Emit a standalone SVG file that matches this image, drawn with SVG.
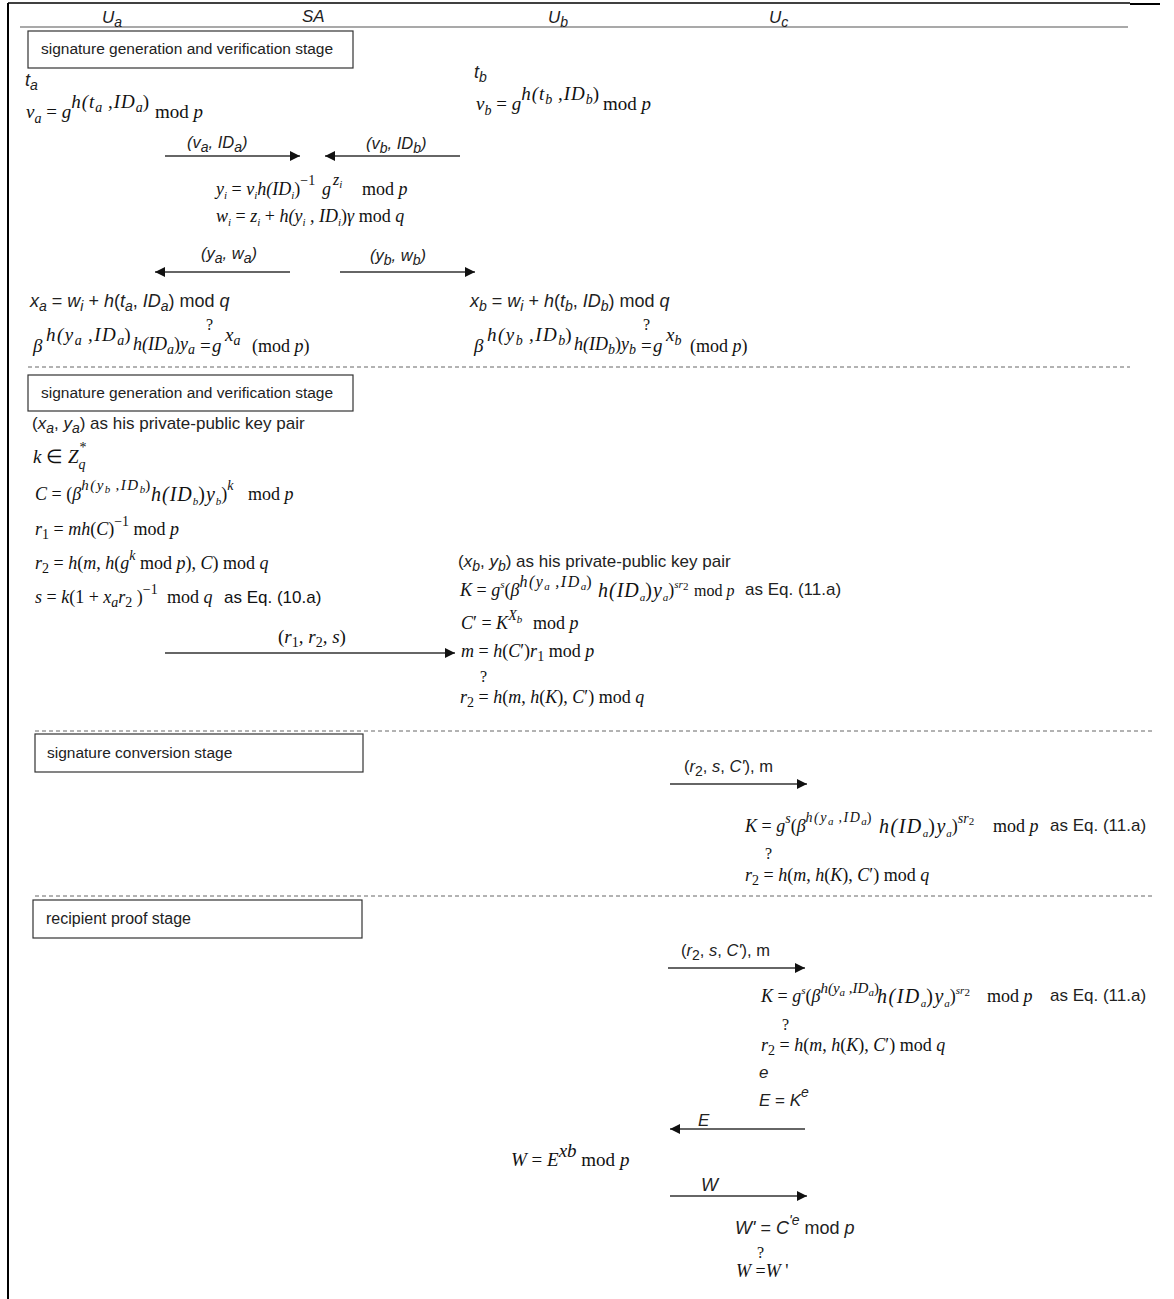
<svg xmlns="http://www.w3.org/2000/svg" width="1174" height="1299" viewBox="0 0 1174 1299">
<style>
.m{font-family:"Liberation Serif",serif;font-size:19px;font-style:italic;fill:#111}
.k{font-family:"Liberation Serif",serif;font-size:18px;font-style:italic;fill:#111}
.n{font-style:normal}
.e{font-size:19px}
.w{font-size:20px;letter-spacing:1px}
.ls{letter-spacing:1.5px}
.ls1{letter-spacing:1px}
.sp{font-size:15px}
.sp16{font-size:16px}
.ss{font-size:11px}
.sb{font-size:14px}
.s{font-family:"Liberation Sans",sans-serif;font-size:17px;fill:#222}
.i{font-style:italic}
.lbl{font-family:"Liberation Sans",sans-serif;font-size:15.5px;fill:#222}
.q{font-family:"Liberation Serif",serif;font-size:16px;fill:#111}
.box{fill:#fff;stroke:#333;stroke-width:1.2}
.arr{stroke:#333;stroke-width:1.3;fill:none}
.dash{stroke:#666;stroke-width:1;stroke-dasharray:4 3}
</style>
<defs>
<marker id="ah" viewBox="0 0 10 10" refX="10" refY="5" markerWidth="11" markerHeight="10" markerUnits="userSpaceOnUse" orient="auto">
<path d="M0,0 L10,5 L0,10 z" fill="#111"/>
</marker>
</defs>
<rect width="1174" height="1299" fill="#fff"/>
<g id="frame">
<line x1="8" y1="3" x2="8" y2="1299" stroke="#000" stroke-width="2"/>
<line x1="8" y1="3" x2="1130" y2="3" stroke="#000" stroke-width="1.5"/>
<line x1="1130" y1="4" x2="1160" y2="4" stroke="#000" stroke-width="2"/>
<line x1="20" y1="27" x2="1128" y2="27" stroke="#555" stroke-width="1.2"/>
<line class="dash" x1="28" y1="367" x2="1130" y2="367"/>
<line class="dash" x1="35" y1="731" x2="1152" y2="731"/>
<line class="dash" x1="35" y1="896" x2="1152" y2="896"/>
</g>
<g id="header">
<text class="s i" x="102" y="23">U<tspan class="sb" y="27">a</tspan></text>
<text class="s i" x="302" y="22">SA</text>
<text class="s i" x="548" y="23">U<tspan class="sb" y="27">b</tspan></text>
<text class="s i" x="769" y="23">U<tspan class="sb" y="27">c</tspan></text>
</g>
<g id="stage1">
<rect class="box" x="28" y="31" width="325" height="37"/>
<text class="lbl" x="41" y="54">signature generation and verification stage</text>
</g>
<g id="stage2">
<rect class="box" x="28" y="375" width="325" height="36"/>
<text class="lbl" x="41" y="398">signature generation and verification stage</text>
</g>
<g id="stage3">
<rect class="box" x="35" y="734" width="328" height="38"/>
<text class="lbl" x="47" y="758">signature conversion stage</text>
</g>
<g id="stage4">
<rect class="box" x="33" y="900" width="329" height="38"/>
<text class="lbl" x="46" y="924" style="font-size:16px">recipient proof stage</text>
</g>
<g id="ua-init">
<text class="s i" x="25" y="86" style="font-size:18px">t<tspan class="sb" y="90">a</tspan></text>
<text class="m" x="26" y="118"><tspan>v</tspan><tspan class="sb" y="123">a</tspan><tspan class="n" y="118"> = </tspan><tspan y="118">g</tspan><tspan class="e ls1" y="108">h(t</tspan><tspan class="sb" y="112">a</tspan><tspan class="e ls1" y="108"> ,ID</tspan><tspan class="sb" y="112">a</tspan><tspan class="e n" y="108">)</tspan><tspan class="n" x="155" y="118">mod </tspan><tspan y="118">p</tspan></text>
</g>
<g id="ub-init">
<text class="s i" x="474" y="78" style="font-size:18px">t<tspan class="sb" y="82">b</tspan></text>
<text class="m" x="476" y="110"><tspan>v</tspan><tspan class="sb" y="115">b</tspan><tspan class="n" y="110"> = </tspan><tspan y="110">g</tspan><tspan class="e ls1" y="100">h(t</tspan><tspan class="sb" y="104">b</tspan><tspan class="e ls1" y="100"> ,ID</tspan><tspan class="sb" y="104">b</tspan><tspan class="e n" y="100">)</tspan><tspan class="n" x="603" y="110">mod </tspan><tspan y="110">p</tspan></text>
</g>
<g id="sa-compute">
<text class="k" x="216" y="195"><tspan>y</tspan><tspan class="ss" y="199">i</tspan><tspan class="n" y="195"> = </tspan><tspan y="195">v</tspan><tspan class="ss" y="199">i</tspan><tspan y="195">h(ID</tspan><tspan class="ss" y="199">i</tspan><tspan class="n" y="195">)</tspan><tspan class="sb n" y="185">−1</tspan><tspan x="322" y="195">g</tspan><tspan class="sp16" x="333" y="185">z</tspan><tspan class="ss" y="188">i</tspan><tspan class="n" x="362" y="195">mod </tspan><tspan y="195">p</tspan></text>
<text class="k" x="216" y="222"><tspan>w</tspan><tspan class="ss" y="226">i</tspan><tspan class="n" y="222"> = </tspan><tspan y="222">z</tspan><tspan class="ss" y="226">i</tspan><tspan class="n" y="222"> + </tspan><tspan y="222">h(y</tspan><tspan class="ss" y="226">i</tspan><tspan y="222"> , ID</tspan><tspan class="ss" y="226">i</tspan><tspan class="n" y="222">)</tspan><tspan y="222">γ</tspan><tspan class="n" y="222"> mod </tspan><tspan y="222">q</tspan></text>
</g>
<g id="ua-verify">
<text class="s" x="30" y="307" style="font-size:18px"><tspan class="i">x</tspan><tspan class="i sb" y="311">a</tspan><tspan y="307"> = </tspan><tspan class="i">w</tspan><tspan class="i sb" y="311">i</tspan><tspan y="307"> + </tspan><tspan class="i">h</tspan><tspan>(</tspan><tspan class="i">t</tspan><tspan class="i sb" y="311">a</tspan><tspan y="307">, </tspan><tspan class="i">ID</tspan><tspan class="i sb" y="311">a</tspan><tspan y="307">) mod </tspan><tspan class="i">q</tspan></text>
<text class="q" x="206" y="330">?</text>
<text class="m" x="33" y="352"><tspan>β</tspan><tspan class="e ls" x="46" y="341">h(y</tspan><tspan class="sb" y="345">a</tspan><tspan class="e ls" y="341"> ,ID</tspan><tspan class="sb" y="345">a</tspan><tspan class="e n" y="341">)</tspan><tspan class="k" x="133" y="350">h(ID</tspan><tspan class="sb" y="354">a</tspan><tspan class="k n" y="350">)</tspan><tspan class="k" y="350">y</tspan><tspan class="sb" y="354">a</tspan><tspan class="n" x="200" y="352">=</tspan><tspan x="212" y="352">g</tspan><tspan class="e" x="225" y="341">x</tspan><tspan class="sb" y="345">a</tspan><tspan class="n k" x="252" y="352">(mod </tspan><tspan class="k" y="352">p</tspan><tspan class="n k" y="352">)</tspan></text>
</g>
<g id="ub-verify">
<text class="s" x="470" y="307" style="font-size:18px"><tspan class="i">x</tspan><tspan class="i sb" y="311">b</tspan><tspan y="307"> = </tspan><tspan class="i">w</tspan><tspan class="i sb" y="311">i</tspan><tspan y="307"> + </tspan><tspan class="i">h</tspan><tspan>(</tspan><tspan class="i">t</tspan><tspan class="i sb" y="311">b</tspan><tspan y="307">, </tspan><tspan class="i">ID</tspan><tspan class="i sb" y="311">b</tspan><tspan y="307">) mod </tspan><tspan class="i">q</tspan></text>
<text class="q" x="643" y="330">?</text>
<text class="m" x="474" y="352"><tspan>β</tspan><tspan class="e ls" x="487" y="341">h(y</tspan><tspan class="sb" y="345">b</tspan><tspan class="e ls" y="341"> ,ID</tspan><tspan class="sb" y="345">b</tspan><tspan class="e n" y="341">)</tspan><tspan class="k" x="574" y="350">h(ID</tspan><tspan class="sb" y="354">b</tspan><tspan class="k n" y="350">)</tspan><tspan class="k" y="350">y</tspan><tspan class="sb" y="354">b</tspan><tspan class="n" x="641" y="352">=</tspan><tspan x="653" y="352">g</tspan><tspan class="e" x="666" y="341">x</tspan><tspan class="sb" y="345">b</tspan><tspan class="n k" x="690" y="352">(mod </tspan><tspan class="k" y="352">p</tspan><tspan class="n k" y="352">)</tspan></text>
</g>
<g id="ua-sign">
<text class="s" x="32" y="429"><tspan>(</tspan><tspan class="i">x</tspan><tspan class="i sb" y="433">a</tspan><tspan y="429">, </tspan><tspan class="i">y</tspan><tspan class="i sb" y="433">a</tspan><tspan y="429">) as his private-public key pair</tspan></text>
<text class="m" x="33" y="463"><tspan>k</tspan><tspan class="n"> ∈ </tspan><tspan>Z</tspan><tspan class="sb n" dx="1" y="452">*</tspan><tspan class="sb" dx="-8" y="469">q</tspan></text>
<text class="k" x="35" y="500"><tspan>C</tspan><tspan class="n"> = (</tspan><tspan>β</tspan><tspan class="sp ls" y="490">h(y</tspan><tspan class="ss" y="493">b</tspan><tspan class="sp ls" y="490"> ,ID</tspan><tspan class="ss" y="493">b</tspan><tspan class="sp n" y="490">)</tspan><tspan class="w" x="151" y="501">h(ID</tspan><tspan class="ss" y="505">b</tspan><tspan class="w n" y="501">)</tspan><tspan class="w" y="501">y</tspan><tspan class="ss" y="505">b</tspan><tspan class="n" y="500">)</tspan><tspan class="sb" y="490">k</tspan><tspan class="n" x="248" y="500">mod </tspan><tspan y="500">p</tspan></text>
<text class="k" x="35" y="535"><tspan>r</tspan><tspan class="sb n" y="539">1</tspan><tspan class="n" y="535"> = </tspan><tspan y="535">mh</tspan><tspan class="n" y="535">(</tspan><tspan y="535">C</tspan><tspan class="n" y="535">)</tspan><tspan class="sb n" y="526">−1</tspan><tspan class="n" y="535"> mod </tspan><tspan y="535">p</tspan></text>
<text class="k" x="35" y="569"><tspan>r</tspan><tspan class="sb n" y="573">2</tspan><tspan class="n" y="569"> = </tspan><tspan y="569">h</tspan><tspan class="n" y="569">(</tspan><tspan y="569">m</tspan><tspan class="n" y="569">, </tspan><tspan y="569">h</tspan><tspan class="n" y="569">(</tspan><tspan y="569">g</tspan><tspan class="sb" y="560">k</tspan><tspan class="n" y="569"> mod </tspan><tspan y="569">p</tspan><tspan class="n" y="569">), </tspan><tspan y="569">C</tspan><tspan class="n" y="569">) mod </tspan><tspan y="569">q</tspan></text>
<text class="k" x="35" y="603"><tspan>s</tspan><tspan class="n"> = </tspan><tspan>k</tspan><tspan class="n">(1 + </tspan><tspan>x</tspan><tspan class="sb" y="607">a</tspan><tspan y="603">r</tspan><tspan class="sb n" y="607">2</tspan><tspan class="n" y="603"> )</tspan><tspan class="sb n" y="594">−1</tspan><tspan class="n" x="167" y="603">mod </tspan><tspan y="603">q</tspan><tspan style="font-family:'Liberation Sans',sans-serif;font-style:normal;font-size:17px" x="224" y="603">as Eq. (10.a)</tspan></text>
</g>
<g id="ub-verify2">
<text class="s" x="458" y="567"><tspan>(</tspan><tspan class="i">x</tspan><tspan class="i sb" y="571">b</tspan><tspan y="567">, </tspan><tspan class="i">y</tspan><tspan class="i sb" y="571">b</tspan><tspan y="567">) as his private-public key pair</tspan></text>
<text class="k" x="460" y="596"><tspan>K</tspan><tspan class="n"> = </tspan><tspan>g</tspan><tspan class="ss" y="588">s</tspan><tspan class="n" y="596">(</tspan><tspan y="596">β</tspan><tspan class="sp16 ls" y="587">h(y</tspan><tspan class="ss" y="590">a</tspan><tspan class="sp16 ls" y="587"> ,ID</tspan><tspan class="ss" y="590">a</tspan><tspan class="sp16 n" y="587">)</tspan><tspan class="w" x="598" y="597">h(ID</tspan><tspan class="ss" y="601">a</tspan><tspan class="w n" y="597">)</tspan><tspan class="w" y="597">y</tspan><tspan class="ss" y="601">a</tspan><tspan class="n" y="596">)</tspan><tspan class="ss" y="588">sr</tspan><tspan class="ss n" y="590">2</tspan><tspan class="n" x="694" y="596" style="font-size:16px">mod </tspan><tspan y="596" style="font-size:16px">p</tspan></text>
<text class="s" x="745" y="595">as Eq. (11.a)</text>
<text class="k" x="461" y="629"><tspan>C</tspan><tspan class="n">′ = </tspan><tspan>K</tspan><tspan class="sb" y="620">X</tspan><tspan class="ss" y="623">b</tspan><tspan class="n" x="533" y="629">mod </tspan><tspan y="629">p</tspan></text>
<text class="k" x="461" y="657"><tspan>m</tspan><tspan class="n"> = </tspan><tspan>h</tspan><tspan class="n">(</tspan><tspan>C</tspan><tspan class="n">′)</tspan><tspan>r</tspan><tspan class="sb n" y="661">1</tspan><tspan class="n" y="657"> mod </tspan><tspan y="657">p</tspan></text>
<text class="q" x="480" y="682">?</text>
<text class="k" x="460" y="703"><tspan>r</tspan><tspan class="sb n" y="707">2</tspan><tspan class="n" y="703"> = </tspan><tspan y="703">h</tspan><tspan class="n" y="703">(</tspan><tspan y="703">m</tspan><tspan class="n" y="703">, </tspan><tspan y="703">h</tspan><tspan class="n" y="703">(</tspan><tspan y="703">K</tspan><tspan class="n" y="703">), </tspan><tspan y="703">C</tspan><tspan class="n" y="703">′) mod </tspan><tspan y="703">q</tspan></text>
</g>
<g id="uc-verify">
<text class="k" x="745" y="832"><tspan>K</tspan><tspan class="n"> = </tspan><tspan>g</tspan><tspan class="sb" y="823">s</tspan><tspan class="n" y="832">(</tspan><tspan y="832">β</tspan><tspan class="sb ls" y="822">h(y</tspan><tspan class="ss" y="825">a</tspan><tspan class="sb ls" y="822"> ,ID</tspan><tspan class="ss" y="825">a</tspan><tspan class="sb n" y="822">)</tspan><tspan class="w" x="879" y="833" style="letter-spacing:1.5px">h(ID</tspan><tspan class="ss" y="837">a</tspan><tspan class="w n" y="833" style="letter-spacing:1.5px">)</tspan><tspan class="w" y="833">y</tspan><tspan class="ss" y="837">a</tspan><tspan class="n" y="832">)</tspan><tspan class="sb" y="823">sr</tspan><tspan class="ss n" y="825">2</tspan><tspan class="n" x="993" y="832">mod </tspan><tspan y="832">p</tspan></text>
<text class="s" x="1050" y="831">as Eq. (11.a)</text>
<text class="q" x="765" y="859">?</text>
<text class="k" x="745" y="881"><tspan>r</tspan><tspan class="sb n" y="885">2</tspan><tspan class="n" y="881"> = </tspan><tspan y="881">h</tspan><tspan class="n" y="881">(</tspan><tspan y="881">m</tspan><tspan class="n" y="881">, </tspan><tspan y="881">h</tspan><tspan class="n" y="881">(</tspan><tspan y="881">K</tspan><tspan class="n" y="881">), </tspan><tspan y="881">C</tspan><tspan class="n" y="881">′) mod </tspan><tspan y="881">q</tspan></text>
</g>
<g id="uc-proof">
<text class="k" x="761" y="1002"><tspan>K</tspan><tspan class="n"> = </tspan><tspan>g</tspan><tspan class="ss" y="994">s</tspan><tspan class="n" y="1002">(</tspan><tspan y="1002">β</tspan><tspan class="sp" y="993">h(y</tspan><tspan class="ss" y="996">a</tspan><tspan class="sp" y="993"> ,ID</tspan><tspan class="ss" y="996">a</tspan><tspan class="sp n" y="993">)</tspan><tspan class="w" x="877" y="1003" style="letter-spacing:1.5px">h(ID</tspan><tspan class="ss" y="1007">a</tspan><tspan class="w n" y="1003" style="letter-spacing:1.5px">)</tspan><tspan class="w" y="1003">y</tspan><tspan class="ss" y="1007">a</tspan><tspan class="n" y="1002">)</tspan><tspan class="ss" y="994">sr</tspan><tspan class="ss n" y="996">2</tspan><tspan class="n" x="987" y="1002">mod </tspan><tspan y="1002">p</tspan></text>
<text class="s" x="1050" y="1001">as Eq. (11.a)</text>
<text class="q" x="782" y="1030">?</text>
<text class="k" x="761" y="1051"><tspan>r</tspan><tspan class="sb n" y="1055">2</tspan><tspan class="n" y="1051"> = </tspan><tspan y="1051">h</tspan><tspan class="n" y="1051">(</tspan><tspan y="1051">m</tspan><tspan class="n" y="1051">, </tspan><tspan y="1051">h</tspan><tspan class="n" y="1051">(</tspan><tspan y="1051">K</tspan><tspan class="n" y="1051">), </tspan><tspan y="1051">C</tspan><tspan class="n" y="1051">′) mod </tspan><tspan y="1051">q</tspan></text>
<text class="s i" x="759" y="1078">e</text>
<text class="s" x="759" y="1106"><tspan class="i">E</tspan><tspan> = </tspan><tspan class="i">K</tspan><tspan class="i sb" y="1097">e</tspan></text>
<text class="s" x="735" y="1234" style="font-size:18px"><tspan class="i">W'</tspan><tspan> = </tspan><tspan class="i">C</tspan><tspan class="i sb" y="1225">'e</tspan><tspan y="1234"> mod </tspan><tspan class="i">p</tspan></text>
<text class="q" x="757" y="1258">?</text>
<text class="k" x="736" y="1277"><tspan>W</tspan><tspan class="n"> =</tspan><tspan>W</tspan><tspan class="n"> '</tspan></text>
</g>
<g id="ub-proof">
<text class="m" x="511" y="1166"><tspan>W</tspan><tspan class="n"> = </tspan><tspan>E</tspan><tspan class="e" y="1157">xb</tspan><tspan class="n" y="1166"> mod </tspan><tspan y="1166">p</tspan></text>
</g>
<g id="connectors">
<line class="arr" x1="165" y1="156" x2="300" y2="156" marker-end="url(#ah)"/>
<line class="arr" x1="460" y1="156" x2="325" y2="156" marker-end="url(#ah)"/>
<line class="arr" x1="290" y1="272" x2="155" y2="272" marker-end="url(#ah)"/>
<line class="arr" x1="340" y1="272" x2="475" y2="272" marker-end="url(#ah)"/>
<line class="arr" x1="165" y1="653" x2="455" y2="653" marker-end="url(#ah)"/>
<line class="arr" x1="670" y1="784" x2="807" y2="784" marker-end="url(#ah)"/>
<line class="arr" x1="668" y1="968" x2="805" y2="968" marker-end="url(#ah)"/>
<line class="arr" x1="805" y1="1129" x2="670" y2="1129" marker-end="url(#ah)"/>
<line class="arr" x1="670" y1="1196" x2="807" y2="1196" marker-end="url(#ah)"/>
<text class="s i" x="187" y="148" style="font-size:16.5px">(v<tspan class="sb" y="152">a</tspan><tspan y="148">, ID</tspan><tspan class="sb" y="152">a</tspan><tspan y="148">)</tspan></text>
<text class="s i" x="366" y="149" style="font-size:16.5px">(v<tspan class="sb" y="153">b</tspan><tspan y="149">, ID</tspan><tspan class="sb" y="153">b</tspan><tspan y="149">)</tspan></text>
<text class="s i" x="201" y="259" style="font-size:16.5px">(y<tspan class="sb" y="263">a</tspan><tspan y="259">, w</tspan><tspan class="sb" y="263">a</tspan><tspan y="259">)</tspan></text>
<text class="s i" x="370" y="261" style="font-size:16.5px">(y<tspan class="sb" y="265">b</tspan><tspan y="261">, w</tspan><tspan class="sb" y="265">b</tspan><tspan y="261">)</tspan></text>
<text class="k" x="278" y="643" style="font-size:19px"><tspan class="n">(</tspan><tspan>r</tspan><tspan class="sb n" y="647">1</tspan><tspan y="643">, r</tspan><tspan class="sb n" y="647">2</tspan><tspan y="643">, s</tspan><tspan class="n" y="643">)</tspan></text>
<text class="s" x="684" y="772" style="font-size:16.5px"><tspan>(</tspan><tspan class="i">r</tspan><tspan class="sb" y="776">2</tspan><tspan y="772">, </tspan><tspan class="i">s</tspan><tspan>, </tspan><tspan class="i">C'</tspan><tspan>), m</tspan></text>
<text class="s" x="681" y="956" style="font-size:16.5px"><tspan>(</tspan><tspan class="i">r</tspan><tspan class="sb" y="960">2</tspan><tspan y="956">, </tspan><tspan class="i">s</tspan><tspan>, </tspan><tspan class="i">C'</tspan><tspan>), m</tspan></text>
<text class="s i" x="698" y="1126">E</text>
<text class="s i" x="701" y="1191" style="font-size:18px">W</text>
</g>
</svg>
